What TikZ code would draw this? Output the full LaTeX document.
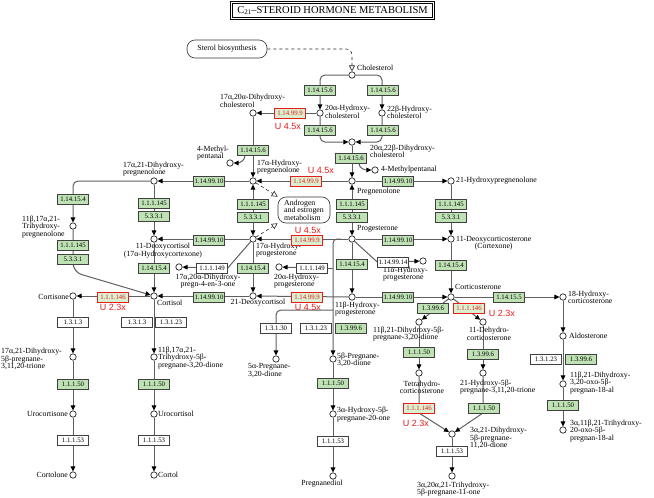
\documentclass[tikz,border=0pt]{standalone}
\usepackage{fontspec}
\setmainfont{Liberation Serif}
\newfontfamily\upfont{Liberation Sans}
\usetikzlibrary{arrows.meta,calc,backgrounds}
\definecolor{enzgreen}{RGB}{191,226,181}
\definecolor{enzpale}{RGB}{216,239,208}
\definecolor{upred}{RGB}{232,28,28}
\definecolor{wiregray}{RGB}{95,95,95}
\newcommand{\cpdsize}{\fontsize{7.8}{7.4}\selectfont\lineskiplimit=-5pt}
\newcommand{\enzsize}{\fontsize{6.8}{7}\selectfont}
\newcommand{\upsize}{\upfont\fontsize{9}{9}\selectfont}
\newcommand{\titlesize}{\fontsize{10.5}{11}\selectfont}
\tikzset{
  cpd/.style={
    circle,
    draw=black!85,
    fill=white,
    line width=.7pt,
    minimum size=6.4pt,
    inner sep=0pt
  },
  enz/.style={
    draw=black!75,
    fill=enzgreen,
    line width=.5pt,
    minimum width=31pt,
    minimum height=10.5pt,
    inner sep=0pt,
    font=\enzsize
  },
  enzw/.style={enz, fill=white},
  enzup/.style={enz, draw=upred, fill=enzpale, text=upred},
  lbl/.style={inner sep=0pt, align=left, font=\cpdsize},
  uptxt/.style={inner sep=0pt, text=upred, font=\upsize},
  mapbox/.style={
    draw=black!80,
    fill=white,
    rounded corners=8pt,
    line width=.6pt,
    inner sep=0pt,
    font=\cpdsize
  },
  title/.style={
    draw=black,
    double=white,
    double distance=1.1pt,
    line width=.9pt,
    minimum width=202pt,
    minimum height=16pt,
    inner sep=0pt,
    font=\titlesize
  },
  rxn/.style={
    draw=wiregray,
    line width=1pt,
    -{Triangle[length=5pt,width=4.6pt,color=black]}
  },
  rxnb/.style={
    rxn,
    {Triangle[length=5pt,width=4.6pt,color=black]}-{Triangle[length=5pt,width=4.6pt,color=black]}
  },
  wire/.style={draw=wiregray, line width=1pt},
  maplink/.style={
    draw=black!85,
    dashed,
    line width=.6pt,
    -{Triangle[open,length=6pt,width=6pt,fill=white]}
  }
}

\begin{document}
\begin{tikzpicture}[x=1pt,y=1pt]
\useasboundingbox (0,0) rectangle (654,-498);

\node[title] (title) at (332.5,-10.5) {C\raisebox{-1pt}{\fontsize{7}{7}\selectfont 21}--STEROID HORMONE METABOLISM};
\node[mapbox, minimum width=80pt, minimum height=18pt] (sterol) at (227,-49) {Sterol biosynthesis};
\node[mapbox, minimum width=52pt, minimum height=26pt, align=left] (andro) at (304,-210) {Androgen\\and estrogen\\metabolism};

% compounds
\node[cpd] (chol) at (352,-75) {};
\node[cpd] (ohc20) at (320,-113) {};
\node[cpd] (ohc22) at (382,-113) {};
\node[cpd] (dhc) at (352,-142) {};
\node[cpd] (dhc1720) at (253,-113) {};
\node[cpd] (mpr) at (375,-170) {};
\node[cpd] (mpl) at (230,-163) {};
\node[cpd] (preg) at (352,-181) {};
\node[cpd] (ohpreg) at (253,-181) {};
\node[cpd] (hpreg21) at (451,-181) {};
\node[cpd] (dhpreg) at (154,-181) {};
\node[cpd] (thpreg) at (73,-226) {};
\node[cpd] (prog) at (352,-239) {};
\node[cpd] (ohprog) at (253,-239) {};
\node[cpd] (doc) at (451,-239) {};
\node[cpd] (dcort) at (154,-239) {};
\node[cpd] (dpreg) at (179,-267) {};
\node[cpd] (ohprog20) at (279,-267) {};
\node[cpd] (ohprog11a) at (423,-261) {};
\node[cpd] (cortisone) at (73,-296) {};
\node[cpd] (cortisol) at (154,-296) {};
\node[cpd] (dcort21) at (253,-296) {};
\node[cpd] (ohprog11b) at (352,-297) {};
\node[cpd] (cortico) at (451,-297) {};
\node[cpd] (ohcort18) at (563,-297) {};
\node[cpd] (dhpd) at (419,-322) {};
\node[cpd] (dhcort) at (483,-322) {};
\node[cpd] (aldo) at (563,-336) {};
\node[cpd] (tdpt) at (73,-357) {};
\node[cpd] (tpd) at (154,-357) {};
\node[cpd] (apd) at (276,-359) {};
\node[cpd] (bpd) at (333,-359) {};
\node[cpd] (thcort) at (419,-373) {};
\node[cpd] (hpt) at (483,-373) {};
\node[cpd] (dhp18) at (563,-384) {};
\node[cpd] (urocortisone) at (73,-414) {};
\node[cpd] (urocortisol) at (154,-414) {};
\node[cpd] (ohbp) at (333,-414) {};
\node[cpd] (thp18) at (563,-430) {};
\node[cpd] (dhpd11) at (452,-434) {};
\node[cpd] (cortolone) at (73,-475) {};
\node[cpd] (cortol) at (154,-475) {};
\node[cpd] (pdiol) at (333,-476) {};
\node[cpd] (thp11) at (452,-476) {};

% compound names
\node[lbl, anchor=west] (l-chol) at (357,-68) {Cholesterol};
\node[lbl, anchor=west] (l-ohc20) at (325,-112) {20α-Hydroxy-\\cholesterol};
\node[lbl, anchor=west] (l-ohc22) at (387,-112) {22β-Hydroxy-\\cholesterol};
\node[lbl, anchor=west] (l-dhc) at (370,-151) {20α,22β-Dihydroxy-\\cholesterol};
\node[lbl, anchor=west] (l-dhc1720) at (220,-101) {17α,20α-Dihydroxy-\\cholesterol};
\node[lbl, anchor=west] (l-mpr) at (381,-170) {4-Methylpentanal};
\node[lbl, anchor=west] (l-mpl) at (197,-153) {4-Methyl-\\pentanal};
\node[lbl, anchor=west] (l-preg) at (357,-192) {Pregnenolone};
\node[lbl, anchor=west] (l-ohpreg) at (257,-167) {17α-Hydroxy-\\pregnenolone};
\node[lbl, anchor=west] (l-hpreg21) at (456,-181) {21-Hydroxypregnenolone};
\node[lbl, anchor=west] (l-dhpreg) at (123,-169) {17α,21-Dihydroxy-\\pregnenolone};
\node[lbl, anchor=west] (l-thpreg) at (22,-227) {11β,17α,21-\\Trihydroxy-\\pregnenolone};
\node[lbl, anchor=west] (l-prog) at (357,-229) {Progesterone};
\node[lbl, anchor=west] (l-ohprog) at (256,-250) {17α-Hydroxy-\\progesterone};
\node[lbl, anchor=west, align=center] (l-doc) at (456,-243.5) {11-Deoxycorticosterone\\(Cortexone)};
\node[lbl, align=center] (l-dcort) at (163,-250.5) {11-Deoxycortisol\\(17α-Hydroxycortexone)};
\node[lbl, anchor=west] (l-cortisol) at (157,-303) {Cortisol};
\node[lbl] (l-dcort21) at (258,-303) {21-Deoxycortisol};
\node[lbl, anchor=west] (l-ohprog11b) at (335,-309) {11β-Hydroxy-\\progesterone};
\node[lbl, align=center] (l-dpreg) at (208,-281) {17α,20α-Dihydroxy-\\pregn-4-en-3-one};
\node[lbl, anchor=west] (l-ohprog20) at (274,-281) {20α-Hydroxy-\\progesterone};
\node[lbl, anchor=west] (l-ohprog11a) at (383,-274) {11α-Hydroxy-\\progesterone};
\node[lbl, anchor=west] (l-cortico) at (455,-287) {Corticosterone};
\node[lbl, anchor=west] (l-ohcort18) at (568,-297.5) {18-Hydroxy-\\corticosterone};
\node[lbl, anchor=west] (l-aldo) at (569,-336) {Aldosterone};
\node[lbl, anchor=west] (l-dhp18) at (570,-383) {11β,21-Dihydroxy-\\3,20-oxo-5β-\\pregnan-18-al};
\node[lbl, anchor=west] (l-thp18) at (570,-431) {3α,11β,21-Trihydroxy-\\20-oxo-5β-\\pregnan-18-al};
\node[lbl, anchor=west] (l-dhpd) at (373,-334) {11β,21-Dihydroxy-5β-\\pregnane-3,20-dione};
\node[lbl, align=center] (l-dhcort) at (489,-334) {11-Dehydro-\\corticosterone};
\node[lbl, align=center] (l-thcort) at (422,-387.5) {Tetrahydro-\\corticosterone};
\node[lbl, anchor=west] (l-hpt) at (460,-387) {21-Hydroxy-5β-\\pregnane-3,11,20-trione};
\node[lbl, anchor=west] (l-dhpd11) at (470,-438) {3α,21-Dihydroxy-\\5β-pregnane-\\11,20-dione};
\node[lbl, anchor=west] (l-thp11) at (417,-489) {3α,20α,21-Trihydroxy-\\5β-pregnane-11-one};
\node[lbl, anchor=west] (l-apd) at (248,-370.5) {5α-Pregnane-\\3,20-dione};
\node[lbl, anchor=west] (l-bpd) at (337,-360) {5β-Pregnane-\\3,20-dione};
\node[lbl, anchor=west] (l-ohbp) at (337,-414.5) {3α-Hydroxy-5β-\\pregnane-20-one};
\node[lbl] (l-pdiol) at (322,-484) {Pregnanediol};
\node[lbl, anchor=east] (l-cortisone) at (69,-297) {Cortisone};
\node[lbl, anchor=west] (l-tdpt) at (1,-359) {17α,21-Dihydroxy-\\5β-pregnane-\\3,11,20-trione};
\node[lbl, anchor=east] (l-urocortisone) at (68,-414) {Urocortisone};
\node[lbl, anchor=east] (l-cortolone) at (68,-475) {Cortolone};
\node[lbl, anchor=west] (l-tpd) at (158,-358) {11β,17α,21-\\Trihydroxy-5β-\\pregnane-3,20-dione};
\node[lbl, anchor=west] (l-urocortisol) at (158,-414) {Urocortisol};
\node[lbl, anchor=west] (l-cortol) at (158,-475) {Cortol};

% enzymes
\node[enz] (ec1) at (320,-90) {1.14.15.6};
\node[enz] (ec2) at (383,-90) {1.14.15.6};
\node[enz] (ec3) at (320,-130) {1.14.15.6};
\node[enz] (ec4) at (383,-130) {1.14.15.6};
\node[enz] (ec5) at (351,-158) {1.14.15.6};
\node[enzup] (ec6) at (290,-113) {1.14.99.9};
\node[enz] (ec7) at (253,-150) {1.14.15.6};
\node[enzup] (ec8) at (306,-181) {1.14.99.9};
\node[enz] (ec9) at (398,-181) {1.14.99.10};
\node[enz] (ec10) at (209,-181) {1.14.99.10};
\node[enz] (ec11) at (352,-204) {1.1.1.145};
\node[enz] (ec12) at (352,-217) {5.3.3.1};
\node[enz] (ec13) at (253,-204) {1.1.1.145};
\node[enz] (ec14) at (253,-217) {5.3.3.1};
\node[enz] (ec15) at (154,-203) {1.1.1.145};
\node[enz] (ec16) at (154,-216) {5.3.3.1};
\node[enz] (ec17) at (451,-204) {1.1.1.145};
\node[enz] (ec18) at (451,-217) {5.3.3.1};
\node[enz] (ec19) at (73,-199) {1.14.15.4};
\node[enz] (ec20) at (73,-245) {1.1.1.145};
\node[enz] (ec21) at (73,-259) {5.3.3.1};
\node[enzup] (ec22) at (307,-240) {1.14.99.9};
\node[enz] (ec23) at (398,-240) {1.14.99.10};
\node[enz] (ec24) at (209,-240) {1.14.99.10};
\node[enz] (ec25) at (154,-268) {1.14.15.4};
\node[enz] (ec26) at (253,-268) {1.14.15.4};
\node[enzw] (ec27) at (212,-268) {1.1.1.149};
\node[enzw] (ec28) at (312,-268) {1.1.1.149};
\node[enz] (ec29) at (352,-264) {1.14.15.4};
\node[enzw] (ec30) at (393,-262) {1.14.99.14};
\node[enz] (ec31) at (451,-265) {1.14.15.4};
\node[enz] (ec32) at (209,-297) {1.14.99.10};
\node[enzup] (ec33) at (307,-297) {1.14.99.9};
\node[enz] (ec34) at (398,-297) {1.14.99.10};
\node[enz] (ec35) at (509,-297) {1.14.15.5};
\node[enzup] (ec36) at (113,-297) {1.1.1.146};
\node[enz] (ec37) at (433,-308) {1.3.99.6};
\node[enzup] (ec38) at (469,-308) {1.1.1.146};
\node[enzw] (ec39) at (73,-322) {1.3.1.3};
\node[enzw] (ec40) at (137,-322) {1.3.1.3};
\node[enzw] (ec41) at (171,-322) {1.3.1.23};
\node[enzw] (ec42) at (276,-328) {1.3.1.30};
\node[enzw] (ec43) at (316,-328) {1.3.1.23};
\node[enz] (ec44) at (351,-328) {1.3.99.6};
\node[enz] (ec45) at (73,-384) {1.1.1.50};
\node[enz] (ec46) at (154,-384) {1.1.1.50};
\node[enz] (ec47) at (333,-383) {1.1.1.50};
\node[enz] (ec48) at (419,-352) {1.1.1.50};
\node[enz] (ec49) at (483,-354) {1.3.99.6};
\node[enzw] (ec50) at (546,-359) {1.3.1.23};
\node[enz] (ec51) at (581,-359) {1.3.99.6};
\node[enz] (ec52) at (563,-405) {1.1.1.50};
\node[enzup] (ec53) at (419,-408) {1.1.1.146};
\node[enz] (ec54) at (484,-408) {1.1.1.50};
\node[enzw] (ec55) at (452,-451) {1.1.1.53};
\node[enzw] (ec56) at (333,-441) {1.1.1.53};
\node[enzw] (ec57) at (73,-440) {1.1.1.53};
\node[enzw] (ec58) at (154,-440) {1.1.1.53};

% fold changes
\node[uptxt] (u6) at (288,-126.5) {U 4.5x};
\node[uptxt] (u8) at (321,-170) {U 4.5x};
\node[uptxt] (u22) at (308,-230) {U 4.5x};
\node[uptxt] (u33) at (308,-307) {U 4.5x};
\node[uptxt] (u36) at (113,-307) {U 2.3x};
\node[uptxt] (u38) at (502,-313) {U 2.3x};
\node[uptxt] (u53) at (416,-423.5) {U 2.3x};

\begin{scope}[on background layer]
\draw[maplink, rounded corners=6pt] (sterol) -| (chol);
\draw[rxn, rounded corners=5pt] (chol) -| (ohc20);
\draw[rxn, rounded corners=5pt] (chol) -| (ohc22);
\draw[rxn, rounded corners=5pt] (ohc20) |- (dhc);
\draw[rxn, rounded corners=5pt] (ohc22) |- (dhc);
\draw[rxn] (dhc) -- (preg);
\draw[rxn] ([xshift=8pt]ec5.south) to[out=-90,in=180] (mpr);
\draw[rxn] (ohc20) -- (dhc1720);
\draw[rxn] (dhc1720) -- (ohpreg);
\draw[rxn] ([xshift=-8pt]ec7.south) to[out=-90,in=0] (mpl);
\draw[rxn] (preg) -- (ohpreg);
\draw[rxn] (preg) -- (hpreg21);
\draw[rxnb] (preg) -- (prog);
\draw[rxnb] (ohpreg) -- (ohprog);
\draw[rxn] (ohpreg) -- (dhpreg);
\draw[rxn, rounded corners=5pt] (dhpreg) -| (thpreg);
\draw[rxn] (hpreg21) -- (doc);
\draw[rxn] (dhpreg) -- (dcort);
\draw[rxn, rounded corners=9pt] (thpreg) -- (73,-272) -- (cortisol);
\draw[maplink] (ohpreg) -- (andro.north west);
\draw[maplink] (ohprog) -- (andro.south west);
\draw[rxn] (prog) -- (ohprog);
\draw[rxn] (prog) -- (doc);
\draw[rxn] (ohprog) -- (dcort);
\draw[rxn] (dcort) -- (cortisol);
\draw[rxn] (ohprog) -- (dcort21);
\draw[wire] (ohprog) -- (ec27.east);
\draw[rxn] (ec27) -- (dpreg);
\draw[rxn, rounded corners=4pt] (341,-239) -| (bpd);
\draw[wire] (333,-268) -- (ec28.east);
\draw[rxn] (ec28) -- (ohprog20);
\draw[rxn, rounded corners=5pt] (333,-310) -| (apd);
\draw[rxn] (prog) -- (ohprog11b);
\draw[wire] (prog) -- (ec30.west);
\draw[rxn] (ec30) -- (ohprog11a);
\draw[rxn] (ohprog11b) -- (dcort21);
\draw[rxn] (dcort21) -- (cortisol);
\draw[rxn] (ohprog11b) -- (cortico);
\draw[rxn] (doc) -- (cortico);
\draw[rxn] (cortico) -- (ohcort18);
\draw[rxn] (ohcort18) -- (aldo);
\draw[rxn] (aldo) -- (dhp18);
\draw[rxn] (dhp18) -- (thp18);
\draw[rxn] (cortico) -- (dhpd);
\draw[rxn] (cortico) -- (dhcort);
\draw[rxn] (cortisol) -- (cortisone);
\draw[rxn] (cortisone) -- (tdpt);
\draw[rxn] (tdpt) -- (urocortisone);
\draw[rxn] (urocortisone) -- (cortolone);
\draw[rxn] (cortisol) -- (tpd);
\draw[rxn] (tpd) -- (urocortisol);
\draw[rxn] (urocortisol) -- (cortol);
\draw[rxn] (bpd) -- (ohbp);
\draw[rxn] (ohbp) -- (pdiol);
\draw[rxn] (dhpd) -- (thcort);
\draw[rxn] (dhcort) -- (hpt);
\draw[rxn] (thcort) -- (419,-413) -- (dhpd11);
\draw[rxn] (hpt) -- (483,-413) -- (dhpd11);
\draw[rxn] (dhpd11) -- (thp11);
\end{scope}
\end{tikzpicture}
\end{document}
